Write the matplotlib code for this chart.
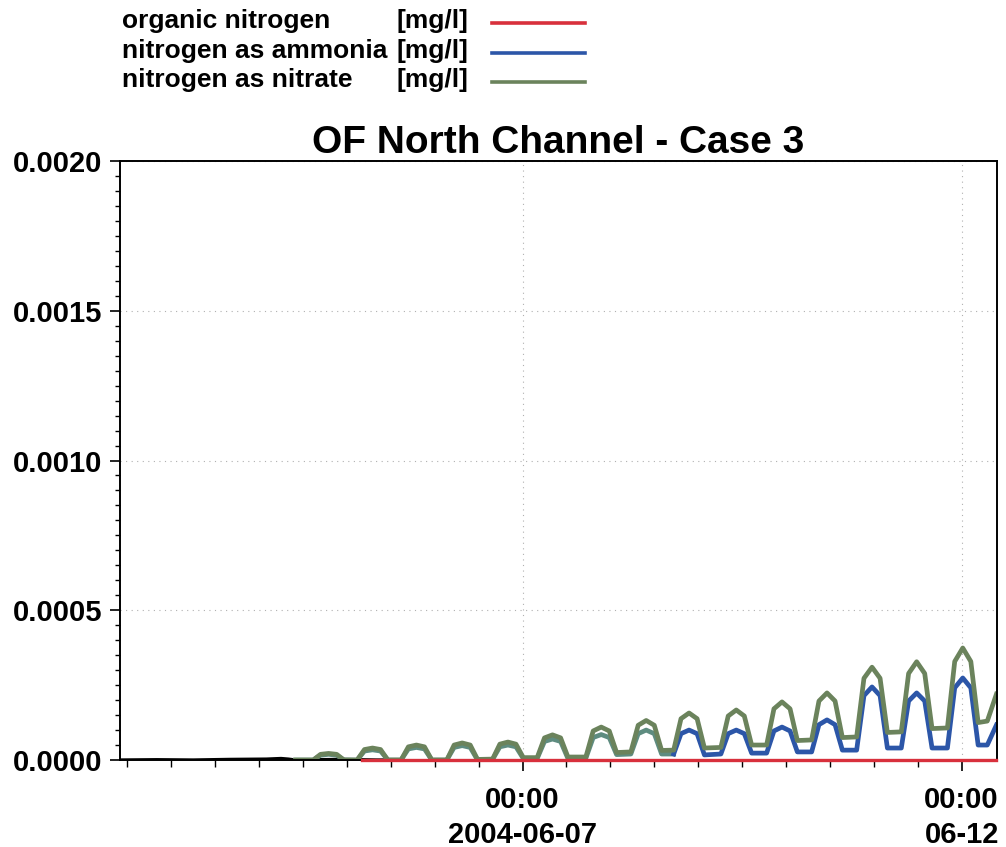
import numpy as np
import matplotlib
matplotlib.use("Agg")
import matplotlib.pyplot as plt
import matplotlib.dates as mdates
from matplotlib.lines import Line2D
from matplotlib.ticker import MultipleLocator, FormatStrFormatter, FixedLocator

plt.rcParams["font.family"] = ["Liberation Sans", "DejaVu Sans"]
plt.rcParams["font.weight"] = "bold"

# Datos: horas relativas a 2004-06-07 00:00
base = np.datetime64("2004-06-07T00:00")

hours = [
    -62,
    -57.2, -55.2, -53, -50.8, -48.8,
    -45.2, -43.2, -41, -38.8, -36.8,
    -33.2, -31.2, -29, -26.8, -24.8,
    -20.7, -18.7, -16.5, -14.3, -12.3,
    -8.2, -6.2, -4, -1.8, 0.2,
    4, 6, 8.2, 10.4, 12.4,
    17.3, 19.3, 21.5, 23.7, 25.7,
    29.6, 31.6, 33.8, 36, 38,
    41.3, 43.3, 45.5, 47.7, 49.7,
    54.2, 56.2, 58.4, 60.6, 62.6,
    66.7, 68.7, 70.9, 73.1, 75.1,
    79, 81, 83.2, 85.4, 87.4,
    91.3, 93.3, 95.5, 97.7, 99.7,
    103.5, 105.5, 107.7, 109.9, 111.9,
    116.1, 118.1, 120.3, 122.5, 124.5,
    127, 129.5,
]

nitrate = [
    0,
    0, 1.9e-5, 2.2e-5, 1.9e-5, 0,
    0, 3.5e-5, 4.0e-5, 3.5e-5, 0,
    0, 4.4e-5, 5.0e-5, 4.4e-5, 0,
    0, 5.0e-5, 5.7e-5, 5.0e-5, 2e-6,
    3e-6, 5.3e-5, 6.0e-5, 5.3e-5, 8e-6,
    8e-6, 7.4e-5, 8.4e-5, 7.4e-5, 1.0e-5,
    1.0e-5, 9.7e-5, 1.10e-4, 9.7e-5, 2.5e-5,
    2.7e-5, 1.16e-4, 1.32e-4, 1.16e-4, 3.2e-5,
    3.3e-5, 1.38e-4, 1.57e-4, 1.38e-4, 4.0e-5,
    4.2e-5, 1.47e-4, 1.67e-4, 1.47e-4, 5.0e-5,
    5.0e-5, 1.71e-4, 1.94e-4, 1.71e-4, 6.5e-5,
    6.7e-5, 1.97e-4, 2.24e-4, 1.97e-4, 7.5e-5,
    7.7e-5, 2.73e-4, 3.10e-4, 2.73e-4, 9.2e-5,
    9.4e-5, 2.89e-4, 3.28e-4, 2.89e-4, 1.05e-4,
    1.07e-4, 3.29e-4, 3.74e-4, 3.29e-4, 1.25e-4,
    1.30e-4, 2.20e-4,
]

ammonia = [
    0,
    0, 1.6e-5, 1.9e-5, 1.6e-5, 0,
    0, 3.0e-5, 3.4e-5, 3.0e-5, 0,
    0, 3.7e-5, 4.2e-5, 3.7e-5, 0,
    0, 4.2e-5, 4.8e-5, 4.2e-5, 0,
    2e-6, 4.4e-5, 5.0e-5, 4.4e-5, 5e-6,
    5e-6, 6.2e-5, 7.0e-5, 6.2e-5, 5e-6,
    6e-6, 7.5e-5, 8.5e-5, 7.5e-5, 1.8e-5,
    2.0e-5, 8.8e-5, 1.00e-4, 8.8e-5, 2.0e-5,
    2.0e-5, 8.8e-5, 1.00e-4, 8.8e-5, 1.7e-5,
    2.0e-5, 8.8e-5, 1.00e-4, 8.8e-5, 2.3e-5,
    2.3e-5, 9.7e-5, 1.10e-4, 9.7e-5, 2.7e-5,
    2.7e-5, 1.18e-4, 1.34e-4, 1.18e-4, 3.3e-5,
    3.3e-5, 2.15e-4, 2.44e-4, 2.15e-4, 4.0e-5,
    4.0e-5, 1.97e-4, 2.24e-4, 1.97e-4, 4.0e-5,
    4.0e-5, 2.41e-4, 2.74e-4, 2.41e-4, 5.0e-5,
    5.0e-5, 1.17e-4,
]
# índice donde el amonio pasa a su color final (antes se ve gris verdoso)
ammonia_split = 41

organic_hours = [-44, 129.5]
organic = [1e-6, 1e-6]

# tramo inicial (negro) antes de las series
spinup_hours = [-110, -100, -90, -80, -70, -66, -64, -62, -50, -40, -34]
spinup = [0, 1e-6, 0, 2e-6, 3e-6, 5e-6, 3e-6, 0, 2e-6, 0, 0]

names = ["organic nitrogen", "nitrogen as ammonia", "nitrogen as nitrate"]
colors = ["#d8303c", "#2c56a8", "#6b835c"]
early_color = "#5e8c80"

xtick_dates = ["2004-06-07", "2004-06-12"]
xtick_labels = ["00:00\n2004-06-07", "00:00\n06-12"]


def to_dates(h):
    return base + (np.array(h) * 60).astype("timedelta64[m]")


fig = plt.figure(figsize=(10.06, 8.47), dpi=100)
ax = fig.add_axes([0.1193, 0.1027, 0.8718, 0.7072])

t = to_dates(hours)
ax.plot(to_dates(spinup_hours), spinup, color="black", lw=2.4)
ax.plot(t[:ammonia_split + 1], ammonia[:ammonia_split + 1], color=early_color, lw=3.4,
        solid_joinstyle="round")
ax.plot(t[ammonia_split:], ammonia[ammonia_split:], color=colors[1], lw=3.4,
        solid_joinstyle="round")
ax.plot(t, nitrate, color=colors[2], lw=3.4, solid_joinstyle="round")
ax.plot(to_dates(organic_hours), organic, color=colors[0], lw=2.4, zorder=3, clip_on=False)

ax.set_ylim(0, 0.002)
ax.set_xlim(np.datetime64("2004-06-02T10:00"), np.datetime64("2004-06-12T09:40"))

ax.yaxis.set_major_locator(MultipleLocator(0.0005))
ax.yaxis.set_minor_locator(MultipleLocator(0.00005))
ax.yaxis.set_major_formatter(FormatStrFormatter("%.4f"))

ax.xaxis.set_major_locator(FixedLocator(mdates.date2num(np.array(xtick_dates, dtype="datetime64[m]"))))
ax.set_xticklabels(xtick_labels, linespacing=1.3)
ax.xaxis.set_minor_locator(mdates.HourLocator(byhour=[0, 12]))

ax.tick_params(axis="y", which="major", length=7, width=1.2, pad=6, labelsize=21)
ax.tick_params(axis="y", which="minor", length=3.5, width=1.0)
ax.tick_params(axis="x", which="major", length=8, width=1.2, pad=11, labelsize=21)
ax.tick_params(axis="x", which="minor", length=5, width=1.0)

ax.grid(True, which="major", color="#b0b0b0", linestyle=(0, (1, 4)), lw=0.8)

for s in ax.spines.values():
    s.set_linewidth(1.4)

ax.set_title("OF North Channel - Case 3", fontsize=28, fontweight="bold", pad=6)

# Leyenda manual
leg_y = [0.975, 0.940, 0.905]
for i in range(3):
    fig.text(0.121, leg_y[i], names[i], fontsize=19, fontweight="bold", va="center")
    fig.text(0.394, leg_y[i], "[mg/l]", fontsize=19, fontweight="bold", va="center")
    fig.add_artist(Line2D([0.489, 0.5815], [leg_y[i] - 0.002, leg_y[i] - 0.002],
                          color=colors[i], lw=2.6, transform=fig.transFigure))

plt.savefig("out.png", dpi=100)
